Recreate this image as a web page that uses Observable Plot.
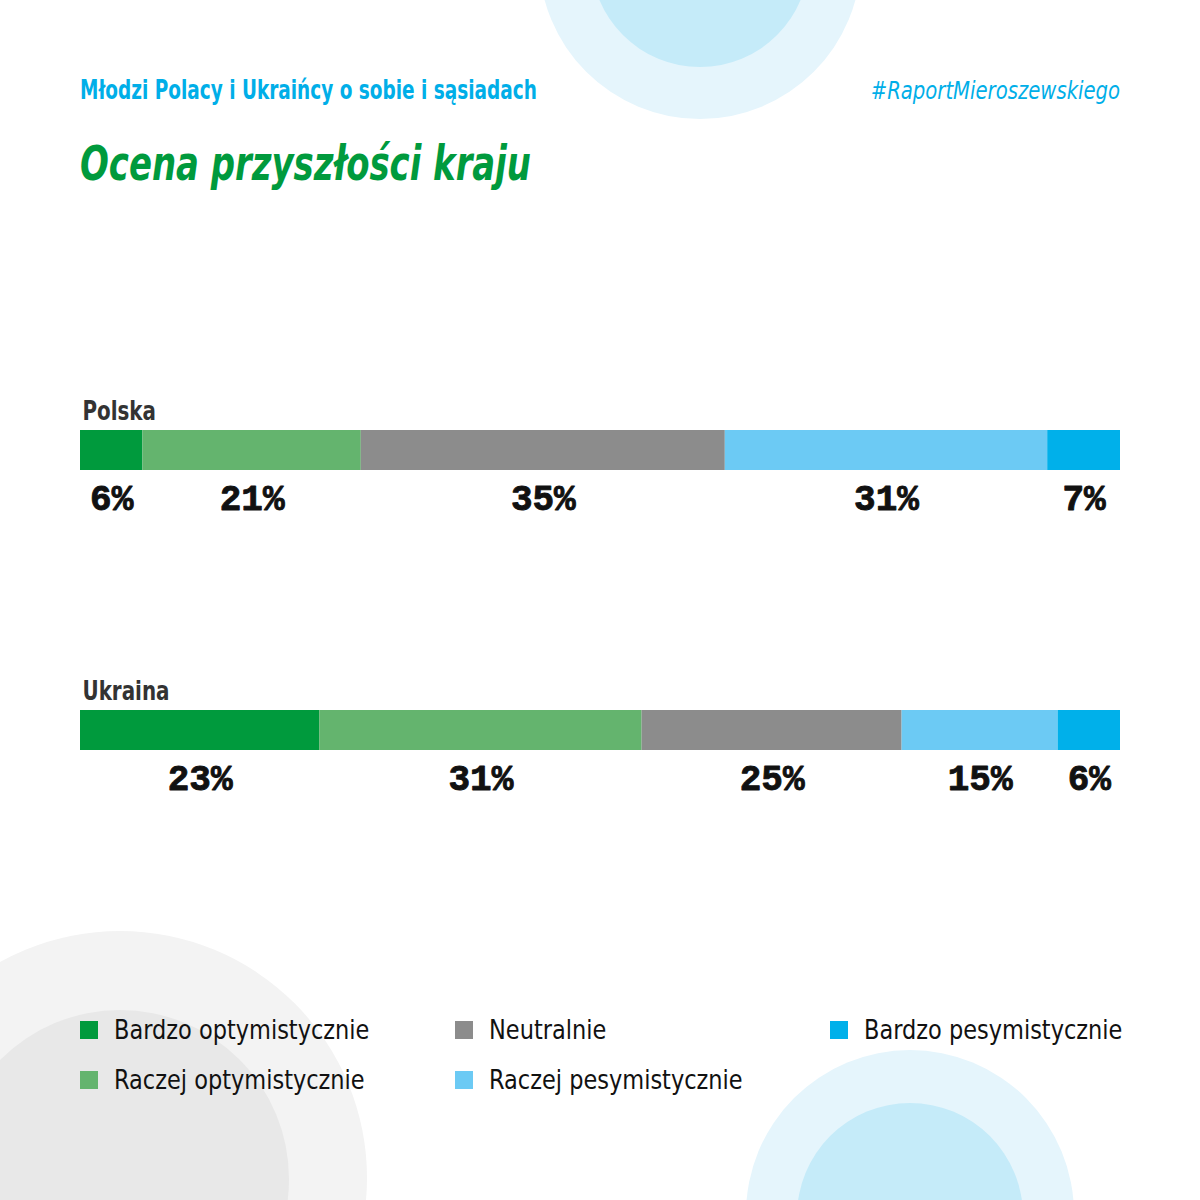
<!DOCTYPE html>
<html>
<head>
<meta charset="utf-8">
<script src="https://cdn.jsdelivr.net/npm/d3@7"></script>
<script src="https://cdn.jsdelivr.net/npm/@observablehq/plot@0.6"></script>
<style>
  html, body { margin: 0; padding: 0; background: #fff; }
  #page { position: relative; width: 1200px; height: 1200px; overflow: hidden; background: #fff; }
  .circle { position: absolute; border-radius: 50%; }
  .t { position: absolute; white-space: nowrap; }
  #sub { left: 80px; top: 75px; font: bold 26px "DejaVu Sans Condensed", sans-serif; color: #00aee8; transform: scaleX(0.79); transform-origin: 0 50%; }
  #tag { right: 80px; top: 77px; font: italic 24px "DejaVu Sans Condensed", sans-serif; color: #00aee8; transform: scaleX(0.91); transform-origin: 100% 50%; }
  #title { left: 80px; top: 135px; font: italic bold 48px "DejaVu Sans Condensed", sans-serif; color: #009a3d; transform: scaleX(0.785); transform-origin: 0 50%; }
  #chart { position: absolute; left: 0; top: 0; }
  #legend { position: absolute; left: 80px; top: 1014px; width: 1100px; height: 100px; }
  .li { position: absolute; display: flex; align-items: center; white-space: nowrap; font: 27px "DejaVu Sans Condensed", sans-serif; color: #111; }
  .li .lab { display: inline-block; transform: scaleX(0.925); transform-origin: 0 50%; }
  .sw { width: 18px; height: 18px; margin-right: 16px; flex: none; }
</style>
</head>
<body>
<div id="page">
  <div class="circle" style="left:539px; top:-203px; width:322px; height:322px; background:#e5f5fc;"></div>
  <div class="circle" style="left:591px; top:-151px; width:218px; height:218px; background:#c5ebf9;"></div>
  <div class="circle" style="left:-127px; top:931px; width:494px; height:494px; background:#f3f3f3;"></div>
  <div class="circle" style="left:-49px; top:1010px; width:338px; height:338px; background:#e8e8e8;"></div>
  <div class="circle" style="left:746px; top:1050px; width:328px; height:328px; background:#e5f5fc;"></div>
  <div class="circle" style="left:797px; top:1103px; width:226px; height:226px; background:#c5ebf9;"></div>
  <div class="t" id="sub">Młodzi Polacy i Ukraińcy o sobie i sąsiadach</div>
  <div class="t" id="tag">#RaportMieroszewskiego</div>
  <div class="t" id="title">Ocena przyszłości kraju</div>
  <div id="chart"></div>
  <div id="legend"></div>
</div>
<script>
const countries = ["Polska", "Ukraina"];
const categories = ["Bardzo optymistycznie", "Raczej optymistycznie", "Neutralnie", "Raczej pesymistycznie", "Bardzo pesymistycznie"];
const colors = ["#009a3d", "#64b46e", "#8c8c8c", "#6ccaf4", "#00b0ea"];
const polskaValues = [6, 21, 35, 31, 7];
const ukrainaValues = [23, 31, 25, 15, 6];

const rows = [];
countries.forEach((c, i) => {
  const vals = i === 0 ? polskaValues : ukrainaValues;
  categories.forEach((cat, j) => rows.push({country: c, category: cat, value: vals[j]}));
});

const chart = Plot.plot({
  width: 1200,
  height: 1200,
  marginLeft: 80,
  marginRight: 80,
  marginTop: 0,
  marginBottom: 0,
  style: {background: "transparent", overflow: "visible"},
  x: {domain: [0, 100], axis: null},
  y: {type: "band", domain: countries, range: [430, 750], paddingInner: 6 / 7, paddingOuter: 0, axis: null},
  color: {domain: categories, range: colors},
  marks: [
    Plot.barX(rows, Plot.stackX({x: "value", y: "country", fill: "category", order: categories})),
    Plot.text(rows, Plot.stackX({
      x: "value", y: "country", z: "category", order: categories,
      text: d => d.value + "%",
      dy: 48,
      fill: "#111",
      fontSize: 36,
      fontWeight: "bold",
      fontFamily: "'Liberation Mono', monospace",
      textAnchor: "middle",
      lineAnchor: "middle",
      stroke: "#111",
      strokeWidth: 0.9
    })),
    Plot.text(countries, {
      x: () => 0, y: d => d, text: d => d,
      dy: -39, dx: 2,
      textAnchor: "start",
      lineAnchor: "middle",
      fill: "#333",
      fontSize: 26,
      fontWeight: "bold",
      fontFamily: "'DejaVu Sans Condensed', sans-serif"
    })
  ]
});
document.getElementById("chart").appendChild(chart);

// condense the country labels to match the narrow typeface
d3.select(chart).selectAll("text").each(function() {
  if (!countries.includes(this.textContent)) return;
  const w = this.getComputedTextLength();
  this.setAttribute("textLength", (w * 0.85).toFixed(1));
  this.setAttribute("lengthAdjust", "spacingAndGlyphs");
});

// legend: three columns
const legend = document.getElementById("legend");
const colX = [0, 375, 750];
const rowY = [0, 50];
categories.forEach((cat, i) => {
  const col = Math.floor(i / 2), row = i % 2;
  const el = document.createElement("div");
  el.className = "li";
  el.style.left = colX[col] + "px";
  el.style.top = rowY[row] + "px";
  el.innerHTML = `<span class="sw" style="background:${colors[i]}"></span><span class="lab">${cat}</span>`;
  legend.appendChild(el);
});
</script>
</body>
</html>
